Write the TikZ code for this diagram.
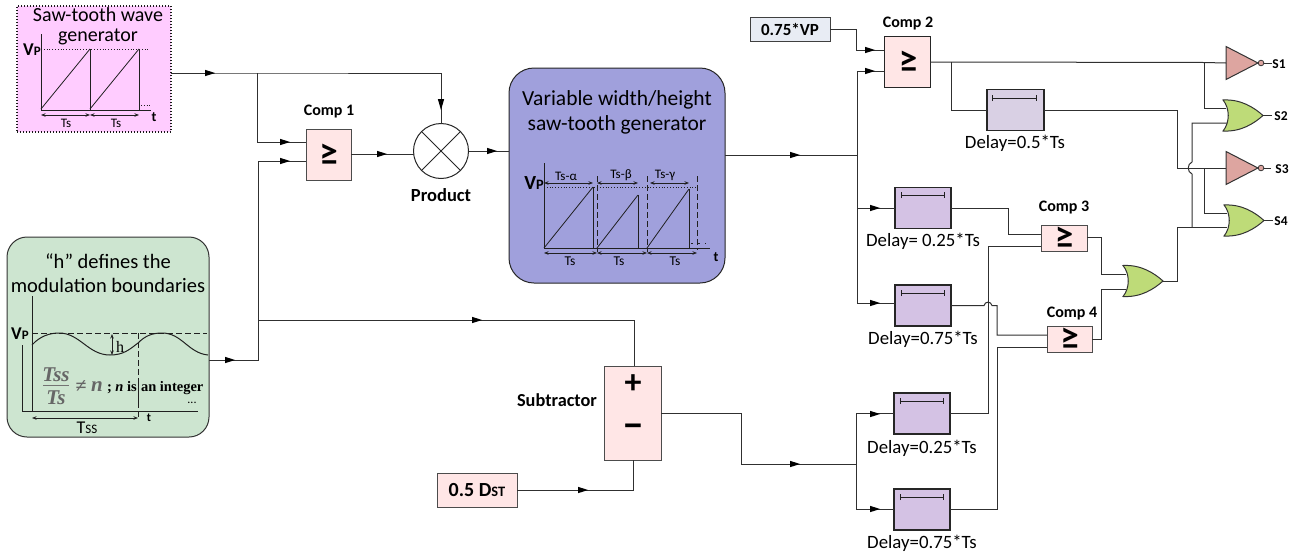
\documentclass[tikz,border=0pt]{standalone}
\usepackage{fontspec}
\setmainfont{Carlito}
\newfontfamily\serifb{Liberation Serif}
\usetikzlibrary{arrows.meta,calc}
\definecolor{wirec}{HTML}{303030}
\definecolor{axisc}{HTML}{202020}
\definecolor{pinkfill}{HTML}{FFCCFF}
\definecolor{greenfill}{HTML}{CDE5D0}
\definecolor{bluefill}{HTML}{A0A0DC}
\definecolor{compfill}{HTML}{FFE6E6}
\definecolor{delayfill}{HTML}{D4C2E4}
\definecolor{delayfillb}{HTML}{D9D0E4}
\definecolor{vpfill}{HTML}{E8ECF4}
\definecolor{invfill}{HTML}{DDA5A0}
\definecolor{orfill}{HTML}{BEDB78}
\newcommand{\fs}[1]{\fontsize{#1}{#1}\selectfont}
\newcommand{\sm}[1]{{\scalebox{.72}{#1}}}
\tikzset{
 wire/.style={draw=wirec,line width=1pt},
 ax/.style={draw=axisc,line width=1pt},
 dim/.style={draw=axisc,line width=.7pt,{Stealth[length=4.5pt,width=3.5pt]}-{Stealth[length=4.5pt,width=3.5pt]}},
 dotl/.style={draw=axisc,line width=.8pt,dotted},
 dashl/.style={draw=axisc,line width=.9pt,dash pattern=on 6pt off 3pt},
 box/.style={draw=#1,inner sep=0,outer sep=0,line width=1pt},
 comp/.style={box=black!70,fill=compfill},
 delaybox/.style={box=black!85,fill=delayfill,minimum width=56pt,minimum height=41pt,line width=1.2pt},
 lbl/.style={inner sep=0,outer sep=0,align=center},
 title/.style={lbl,font=\fs{20}},
 dlabel/.style={lbl,font=\fs{18.8}},
 blbl/.style={lbl,font=\fs{16}\bfseries},
 small/.style={lbl,font=\fs{13}},
 vp/.style={lbl,font=\fs{18}\bfseries},
 ge/.style={lbl,font=\fs{37}\bfseries},
 sout/.style={lbl,font=\fs{13.5}\bfseries},
 bar/.style={draw=axisc,line width=.9pt,{Bar[width=6pt,line width=.9pt]}-{Bar[width=6pt,line width=.9pt]}},
}
\newcommand{\arr}[2]{\fill[black] (#1-5,#2-3.2) -- (#1+5,#2) -- (#1-5,#2+3.2) -- cycle;}
\newcommand{\orgate}[4]{% name, x, y centre, half height
 \draw[draw=black!80,fill=orfill,line width=1pt] (#2,#3-#4) .. controls (#2+18,#3-#4-1) and (#2+31,#3-8) .. (#2+40,#3) .. controls (#2+31,#3+8) and (#2+18,#3+#4+1) .. (#2,#3+#4) .. controls (#2+7,#3+7) and (#2+7,#3-7) .. (#2,#3-#4) -- cycle;
 \coordinate (#1out) at (#2+40,#3);}
\newcommand{\invgate}[3]{% name, x, y
 \draw[draw=black!80,fill=invfill,line width=1pt] (#2,#3-16.5) -- (#2+32,#3) -- (#2,#3+16.5) -- cycle;
 \draw[draw=black!80,fill=invfill,line width=.8pt] (#2+35,#3) circle (2.8);
 \coordinate (#1out) at (#2+37.8,#3);
 \coordinate (#1in) at (#2,#3);}
\begin{document}
\begin{tikzpicture}[x=1pt,y=-1pt]
\useasboundingbox (0,0) rectangle (1297,557);
% ---------- saw-tooth source
\node[box=black!90,fill=pinkfill,dotted,line width=1.1pt,minimum width=154pt,minimum height=126pt] (saw) at (94,69) {};
\node[title] (sawa) at (98,15) {Saw-tooth wave};
\node[title] (sawb) at (98,37) {generator};
\draw[ax] (41,34) -- (41,110) -- (151,110);
\draw[dotl] (41,49) -- (148,49);
\draw[ax,line width=.8pt] (41,109) -- (90,49);
\draw[ax] (90,49) -- (90,110);
\draw[ax,line width=.8pt] (90,109) -- (139,49);
\draw[ax] (139,49) -- (139,110);
\draw[dotl] (141,105) -- (151,105);
\draw[dim] (41,115) -- (90,115);
\draw[dim] (90,115) -- (139,115);
\node[small] (sawts1) at (66,123) {Ts};
\node[small] (sawts2) at (116,123) {Ts};
\node[lbl,font=\fs{14}\bfseries] (sawt) at (154,117) {t};
\node[vp] (sawvp) at (32,50) {V\sm{P}};
% ---------- h box
\node[box=black!80,fill=greenfill,rounded corners=20pt,minimum width=202pt,minimum height=200pt] (hbox) at (108,337) {};
\node[title,font=\fs{20.5}] (ha) at (108,261) {“h” defines the};
\node[title,font=\fs{20.5}] (hb) at (108,285) {modulation boundaries};
\draw[ax] (32,296) -- (32,411);
\draw[ax] (22,345) -- (22,411) -- (198,411);
\draw[dashl] (32,333) -- (207,333);
\draw[ax] (32,345) .. controls (40,336) and (50,333) .. (59,333) .. controls (80,333) and (88,355) .. (110,355) .. controls (124,355) and (130,349) .. (138,343) .. controls (145,336) and (152,333) .. (162,333) .. controls (182,333) and (188,353) .. (208,355);
\draw[dashl] (138,333) -- (138,380);
\draw[ax,line width=.8pt] (138,380) -- (138,402);
\draw[dashl] (138,402) -- (138,420);
\draw[dim,line width=.9pt] (112,334) -- (112,355);
\node[lbl,font=\fs{16}\serifb] (hh) at (120,347) {h};
\draw[dim] (32,418) -- (138,418);
\node[lbl,font=\fs{18}] (tss) at (87,428) {T\sm{SS}};
\node[lbl,font=\fs{12}\bfseries] (ht) at (149,418) {t};
\node[lbl,font=\fs{12}] (hdots) at (192,403) {...};
\node[vp] (hvp) at (20,334) {V\sm{P}};
\draw[draw=black!55,line width=1.3pt] (43,385.5) -- (69,385.5);
\node[lbl,font=\fs{21}\serifb\bfseries\itshape,text=black!60] (tssn) at (56,375) {Tss};
\node[lbl,font=\fs{21}\serifb\bfseries\itshape,text=black!60] (tsd) at (56,398) {Ts};
\node[lbl,font=\fs{20}\serifb\bfseries,text=black!60] (neq) at (81,387) {≠};
\node[lbl,font=\fs{21}\serifb\bfseries\itshape,text=black!60] (nvar) at (97,387) {n};
\node[lbl,font=\fs{14.5}\serifb\bfseries,anchor=west] (nint1) at (107,388) {; \textit{n} is};
\node[lbl,font=\fs{14.5}\serifb\bfseries,anchor=west] (nint2) at (141,388) {an integer};
% ---------- comp 1 and product
\node[comp,minimum width=45pt,minimum height=51pt] (comp1) at (328.5,154.5) {};
\node[ge] (ge1) at (328.5,155) {≥};
\node[blbl] (comp1l) at (329,112) {Comp 1};
\node[circle,draw=black!85,fill=white,line width=1pt,minimum size=55pt,inner sep=0,outer sep=0] (prod) at (441,151) {};
\draw[draw=black!85,line width=1pt] (prod.45) -- (prod.225) (prod.135) -- (prod.315);
\node[blbl,font=\fs{18.5}\bfseries] (prodl) at (441,195) {Product};
% ---------- variable saw-tooth
\node[box=black!85,fill=bluefill,rounded corners=25pt,minimum width=216pt,minimum height=215pt] (vsaw) at (617,175.5) {};
\node[title,font=\fs{21.5}] (va) at (617,100) {Variable width/height};
\node[title,font=\fs{21.5}] (vb) at (617,125) {saw-tooth generator};
\draw[ax] (544,163) -- (544,248) -- (710,248);
\draw[dotl] (544,187) -- (697,187);
\draw[ax,line width=.8pt] (544,248) -- (593,187);
\draw[ax] (593,187) -- (593,248);
\draw[ax,line width=.8pt] (597,248) -- (638,195);
\draw[ax] (638,195) -- (638,248);
\draw[ax,line width=.8pt] (647,248) -- (689,189);
\draw[ax] (689,189) -- (689,248);
\draw[dashl] (597,176) -- (597,252);
\draw[dashl] (647,176) -- (647,252);
\draw[dashl] (697,176) -- (697,250);
\draw[dashl,dash pattern=on 2pt off 5pt,line width=1pt] (691,243) -- (706,243);
\draw[dim] (544,183) -- (593,183);
\draw[dim] (597,183) -- (638,183);
\draw[dim] (650,183) -- (689,183);
\draw[dim] (544,253) -- (597,253);
\draw[dim] (597,253) -- (647,253);
\draw[dim] (647,253) -- (697,253);
\node[small] (va1) at (566,176) {Ts-α};
\node[small] (vb1) at (621,175) {Ts-β};
\node[small] (vg1) at (665,175) {Ts-γ};
\node[small,font=\fs{13.5}] (vt1) at (570,261) {Ts};
\node[small,font=\fs{13.5}] (vt2) at (619,261) {Ts};
\node[small,font=\fs{13.5}] (vt3) at (675,261) {Ts};
\node[lbl,font=\fs{14}\bfseries] (vt) at (716,257) {t};
\node[vp,font=\fs{20}\bfseries] (vvp) at (534,183) {V\sm{P}};
% ---------- subtractor
\node[comp,minimum width=57pt,minimum height=94pt] (sub) at (632.5,413) {};
\node[lbl,font=\fs{34}\bfseries] (subp) at (633,384) {+};
\node[lbl,font=\fs{40}\bfseries] (subm) at (633,431) {−};
\node[blbl,font=\fs{18.3}\bfseries] (subl) at (557,400) {Subtractor};
\node[comp,minimum width=80pt,minimum height=34pt] (dst) at (477,490) {};
\node[lbl,font=\fs{20}\bfseries] (dstl) at (477,490) {0.5 D\sm{ST}};
% ---------- comp 2, Vp
\node[box=black!75,fill=vpfill,minimum width=80pt,minimum height=24pt] (vpb) at (790,29) {};
\node[lbl,font=\fs{17}\bfseries] (vpl) at (790,29) {0.75*VP};
\node[comp,draw=black!85,minimum width=46pt,minimum height=51pt] (comp2) at (907,61.5) {};
\node[ge] (ge2) at (908,62) {≥};
\node[blbl] (comp2l) at (908,24) {Comp 2};
% ---------- delays
\node[delaybox,fill=delayfillb,minimum width=57pt] (d05) at (1015.5,110) {};
\draw[bar] (992,98) -- (1037,98);
\node[dlabel] (d05l) at (1015,143) {Delay=0.5*Ts};
\node[delaybox] (d1) at (923,208) {};
\draw[bar] (901,195) -- (945,195);
\node[dlabel] (d1l) at (923,241) {Delay= 0.25*Ts};
\node[delaybox] (d2) at (923,305.5) {};
\draw[bar] (901,293) -- (945,293);
\node[dlabel] (d2l) at (923,339) {Delay=0.75*Ts};
\node[delaybox] (d3) at (922,413.5) {};
\draw[bar] (900,401) -- (944,401);
\node[dlabel] (d3l) at (922,448) {Delay=0.25*Ts};
\node[delaybox] (d4) at (922,509.5) {};
\draw[bar] (900,497) -- (944,497);
\node[dlabel] (d4l) at (922,543) {Delay=0.75*Ts};
% ---------- comp 3 and 4
\node[comp,minimum width=46pt,minimum height=26pt] (comp3) at (1064,238) {};
\node[ge] (ge3) at (1064,238) {≥};
\node[blbl] (comp3l) at (1064,208) {Comp 3};
\node[comp,minimum width=45pt,minimum height=26pt] (comp4) at (1069.5,339) {};
\node[ge] (ge4) at (1069.5,339) {≥};
\node[blbl] (comp4l) at (1072,314) {Comp 4};
% ---------- gates
\orgate{orc}{1123}{281}{15.5}
\orgate{ors}{1223}{115.5}{15.5}
\orgate{orf}{1224}{220.5}{15.5}
\invgate{inva}{1226}{63}
\invgate{invb}{1226}{168}
\node[sout] (s1) at (1279,64) {S1};
\node[sout] (s2) at (1281,116) {S2};
\node[sout] (s3) at (1282,169) {S3};
\node[sout] (s4) at (1281,221) {S4};
% ---------- junctions
\coordinate (j1) at (257,73);
\coordinate (j2) at (258,320);
\coordinate (bus) at (857,155);
\coordinate (lbus) at (856,464);
\coordinate (j3) at (951,62);
\coordinate (j4) at (1204,63);
\coordinate (j5) at (1204,168);
% ---------- connectors
\draw[wire] (saw.east|-0,73) -- (j1) -- (441,73) -- (prod.north);
\draw[wire] (j1) -- (257,142) -- (comp1.west|-0,142);
\draw[wire] (hbox.east|-0,360) -- (258,360) -- (258,161) -- (comp1.west|-0,161);
\draw[wire] (j2) -- (634,320) -- (sub.north-|634,0);
\draw[wire] (comp1.east|-0,154) -- (prod.west|-0,154);
\draw[wire] (prod.east) -- (vsaw.west|-0,151);
\draw[wire] (vsaw.east|-0,155) -- (bus);
\draw[wire] (dst.east) -- (633,490) -- (sub.south-|633,0);
\draw[wire] (sub.east) -- (741,413) -- (741,464) -- (lbus);
\draw[wire] (vpb.east) -- (856,29) -- (856,50) -- (comp2.west|-0,50);
\draw[wire] (comp2.west|-0,71) -- (857,71) -- (857,303) -- (d2.west|-0,303);
\draw[wire] (857,208) -- (d1.west);
\draw[wire] (d3.west) -- (856,413.5) -- (856,509.5) -- (d4.west);
\draw[wire] (comp2.east|-0,62) -- (j3) -- (1204,62.5) -- (invain);
\draw[wire] (j3) -- (951,110) -- (d05.west);
\draw[wire] (d05.east) -- (1177,110) -- (1177,168) -- (invbin);
\draw[wire] (j4) -- (1204,108) -- (1226,108);
\draw[wire] (j5) -- (1204,213) -- (1227,213);
\draw[wire] (d1.east) -- (1008,208) -- (1008,234) -- (comp3.west|-0,234);
\draw[wire] (d3.east) -- (988,413.5) -- (988,246) -- (comp3.west|-0,246);
\draw[wire] (d2.east) -- (984,305.5) .. controls (985,301) and (991,301) .. (992,305.5) -- (997,305.5) -- (997,335) -- (comp4.west|-0,335);
\draw[wire] (d4.east) -- (997,509.5) -- (997,347) -- (comp4.west|-0,347);
\draw[wire] (comp3.east|-0,237) -- (1101,237) -- (1101,274) -- (1126,274);
\draw[wire] (comp4.east|-0,339) -- (1101,339) -- (1101,289) -- (1126,289);
\draw[wire] (orcout) -- (1177,281) -- (1177,227) -- (1227,227);
\draw[wire] (1192,227) -- (1192,174) .. controls (1187,172) and (1187,164) .. (1192,162) -- (1192,123) -- (1227,123);
\draw[wire] (invaout) -- (1272,63);
\draw[wire] (invbout) -- (1271,168);
\draw[wire] (orsout) -- (1272,115.5);
\draw[wire] (orfout) -- (1273,220.5);
% ---------- flow arrows
\arr{210}{73}
\arr{285}{142}
\arr{285}{161}
\arr{230}{360}
\arr{477}{320}
\arr{382}{154}
\arr{492}{151}
\arr{795}{155}
\arr{583}{490}
\arr{795}{464}
\arr{870}{50}
\arr{870}{71}
\arr{875}{208}
\arr{875}{303}
\arr{875}{414}
\arr{875}{509}
\fill[black] (441,99) -- (444.2,99) -- (441,110) -- (437.8,99) -- cycle;
\end{tikzpicture}
\end{document}
